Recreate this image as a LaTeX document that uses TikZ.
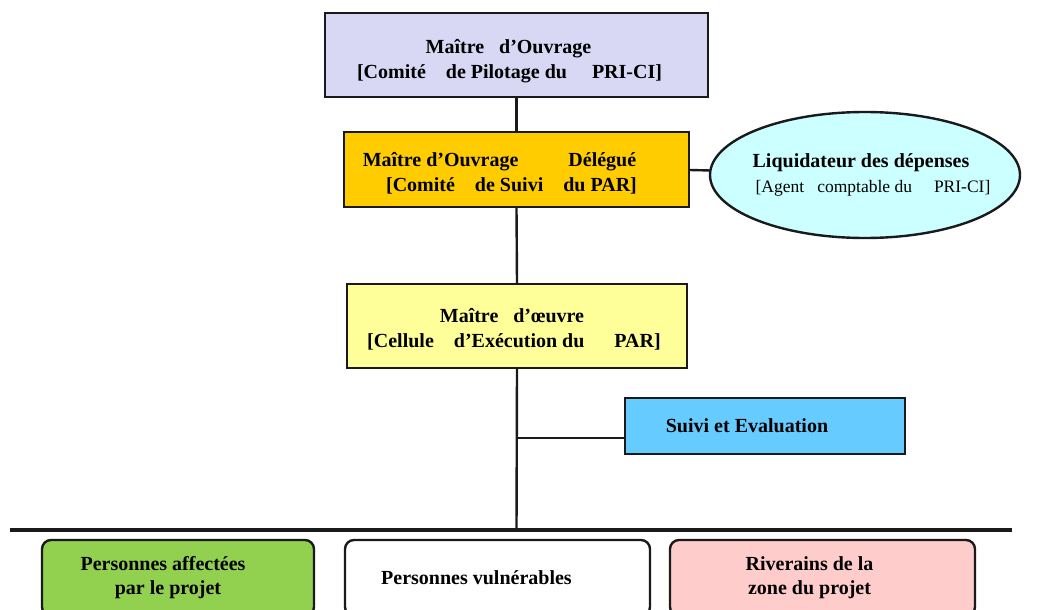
\documentclass[tikz,border=0pt]{standalone}
\usepackage{fontspec}
\setmainfont{Liberation Serif}
\usetikzlibrary{shapes.geometric,calc}
\definecolor{lav}{HTML}{D8D8F4}
\definecolor{gold}{HTML}{FFCC00}
\definecolor{lcyan}{HTML}{CCFFFF}
\definecolor{lyel}{HTML}{FFFF99}
\definecolor{sky}{HTML}{66CCFF}
\definecolor{lgreen}{HTML}{92D050}
\definecolor{lpink}{HTML}{FFCCCC}
\definecolor{ink}{HTML}{1A1A1A}
\tikzset{
  box/.style={draw=ink, line width=2.4pt, rectangle, align=center, inner sep=0pt,
    font=\fontsize{20}{25}\selectfont\bfseries},
  rbox/.style={draw=ink, line width=2.4pt, rectangle, rounded corners=9pt, align=center, inner sep=0pt,
    font=\fontsize{20}{24}\selectfont\bfseries},
  conn/.style={draw=ink, line width=2.4pt}
}
\begin{document}
\begin{tikzpicture}[x=1pt,y=-1pt]
\useasboundingbox (0,0) rectangle (1042,610);
\node[box, fill=lav, minimum width=383, minimum height=84] (b1) at (516.5,55)
  {\rule{0pt}{26pt}\hspace*{-16pt}Maître\ \ \ d’Ouvrage\\\hspace*{-14pt}{[}Comité\ \ \ \ de Pilotage du\ \ \ \ \ PRI-CI{]}};
\node[box, fill=gold, minimum width=345, minimum height=75] (b2) at (516.5,169.5)
  {\rule{0pt}{21pt}\hspace*{-34pt}Maître d’Ouvrage\ \ \ \ \ \ \ \ \ \ Délégué\\\hspace*{-10pt}{[}Comité\ \ \ \ de Suivi\ \ \ \ du PAR{]}};
\node[ellipse, draw=ink, line width=2.4pt, fill=lcyan, minimum width=310, minimum height=126,
  inner xsep=-60pt, inner ysep=-10pt, align=center,
  font=\fontsize{20}{25}\selectfont\bfseries] (el) at (865,175)
  {\hspace*{-8pt}Liquidateur des dépenses\\
   \hspace*{16pt}{\fontsize{17.5}{25}\selectfont\mdseries {[}Agent\ \ \ comptable du\ \ \ \ \ PRI-CI{]}}};
\node[box, fill=lyel, minimum width=340, minimum height=84] (b3) at (517,326)
  {\rule{0pt}{21pt}\hspace*{-10pt}Maître\ \ \ d’œuvre\\\hspace*{-6pt}{[}Cellule\ \ \ \ d’Exécution du\ \ \ \ \ \ PAR{]}};
\node[box, fill=sky, minimum width=280, minimum height=56] (se) at (765,426)
  {\hspace*{-36pt}Suivi et Evaluation};
\node[rbox, fill=lgreen, minimum width=272, minimum height=76] (g) at (178,578)
  {\hspace*{-30pt}Personnes affectées\\\hspace*{-20pt}par le projet};
\node[rbox, fill=white, minimum width=305, minimum height=76] (w) at (497.5,578)
  {\hspace*{-42pt}Personnes vulnérables};
\node[rbox, fill=lpink, minimum width=305, minimum height=76] (p) at (822.5,578)
  {\hspace*{-26pt}Riverains de la\\\hspace*{-26pt}zone du projet};
\coordinate (hl) at (10,530);
\coordinate (hr) at (1012,530);
\coordinate (hm) at (516.5,530);
\coordinate (sj) at (516.5,438);
\draw[conn] (b1.south) -- (b2.north);
\draw[conn] (b2.south) -- (b3.north);
\draw[conn] (b3.south) -- (hm);
\draw[conn] (sj) -- (sj -| se.west);
\draw[conn] ($(b2.east)+(0,0.5)$) -- ($(el.west)+(2,-4.5)$);
\draw[draw=ink, line width=3.6pt] (hl) -- (hr);
\end{tikzpicture}
\end{document}
